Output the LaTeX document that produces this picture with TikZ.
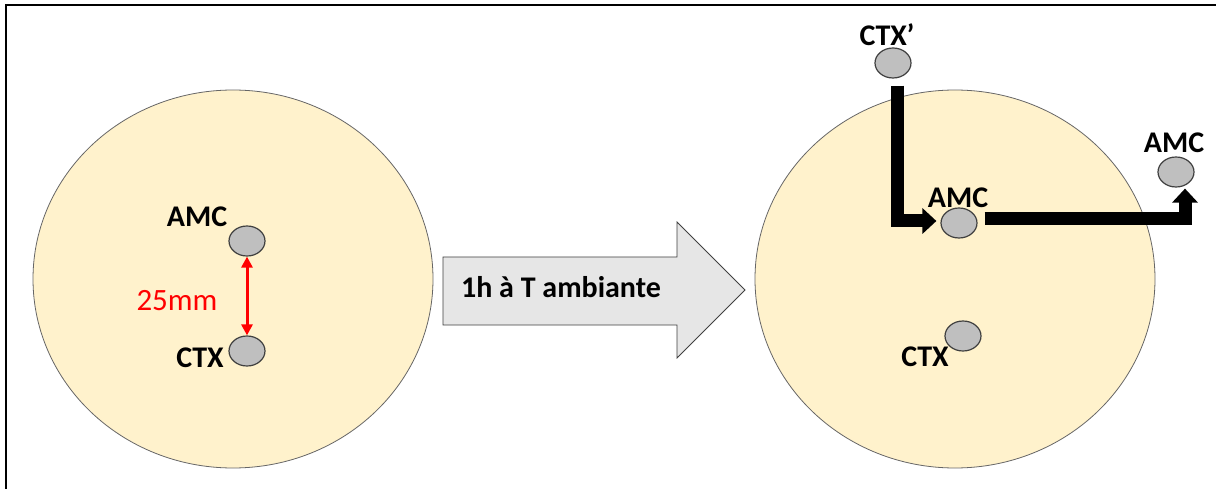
\documentclass[tikz,border=0pt]{standalone}
\usepackage{fontspec}
\setmainfont{Carlito}
\usetikzlibrary{shapes.geometric,arrows.meta}
\definecolor{dish}{HTML}{FFF2CC}
\definecolor{dotfill}{HTML}{BFBFBF}
\definecolor{dotline}{HTML}{404040}
\definecolor{arrfill}{HTML}{E6E6E6}
\definecolor{arrline}{HTML}{404040}
\tikzset{
  dishshape/.style={ellipse, draw=dotline!80, line width=0.8pt, fill=dish, minimum width=400pt, minimum height=378pt, inner sep=0pt},
  disc/.style={ellipse, draw=dotline, line width=1.2pt, fill=dotfill, minimum width=36pt, minimum height=30pt, inner sep=0pt},
  lbl/.style={font=\fontsize{30}{34}\selectfont\bfseries, inner sep=0pt, text=black},
  redlbl/.style={font=\fontsize{31}{34}\selectfont, inner sep=0pt, text=red},
  bigarrow/.style={line width=13pt, line join=miter, -{Triangle[width=25pt,length=14pt]}},
  redarrow/.style={red, line width=3pt, {Triangle[width=11pt,length=11pt]}-{Triangle[width=11pt,length=11pt]}},
  procshape/.style={draw=arrline, line width=0.8pt, fill=arrfill, line join=miter},
}
\begin{document}
\begin{tikzpicture}[x=1pt,y=-1pt]
\useasboundingbox (0,0) rectangle (1216,489);
\fill[white] (0,0) rectangle (1216,489);
% frame
\draw[line width=2.5pt] (6,489) -- (6,5) -- (1216,5);
% dishes
\node[dishshape] (dishL) at (233,279) {};
\node[dishshape] (dishR) at (955,279) {};
% left dish
\node[disc] (amc1) at (247,241) {};
\node[disc] (ctx1) at (247,351) {};
\node[lbl] (amc1l) at (197,217) {AMC};
\node[lbl] (ctx1l) at (200,358) {CTX};
\node[redlbl] (dist) at (177,301) {25mm};
\draw[redarrow] (amc1.south) -- (ctx1.north);
% process arrow
\draw[procshape] (443,257) -- (677,257) -- (677,222) -- (745,290) -- (677,358) -- (677,325) -- (443,325) -- cycle;
\node[lbl] (proctext) at (561,287) {1h à T ambiante};
% right dish
\node[disc] (ctxp) at (893,63) {};
\node[lbl] (ctxpl) at (887,35) {CTX’};
\node[disc] (amc2) at (959,223) {};
\node[lbl] (amc2l) at (958,198) {AMC};
\node[disc] (amc3) at (1176,172) {};
\node[lbl] (amc3l) at (1174,143) {AMC};
\node[disc] (ctx2) at (963,336) {};
\node[lbl] (ctx2l) at (925,357) {CTX};
% movement arrows
\draw[bigarrow] ([xshift=4pt,yshift=-7pt]ctxp.south) |- ([xshift=-4pt,yshift=2pt]amc2.west);
\draw[bigarrow] ([xshift=7pt,yshift=4pt]amc2.east) -| ([xshift=9pt,yshift=-1pt]amc3.south);
\end{tikzpicture}
\end{document}
